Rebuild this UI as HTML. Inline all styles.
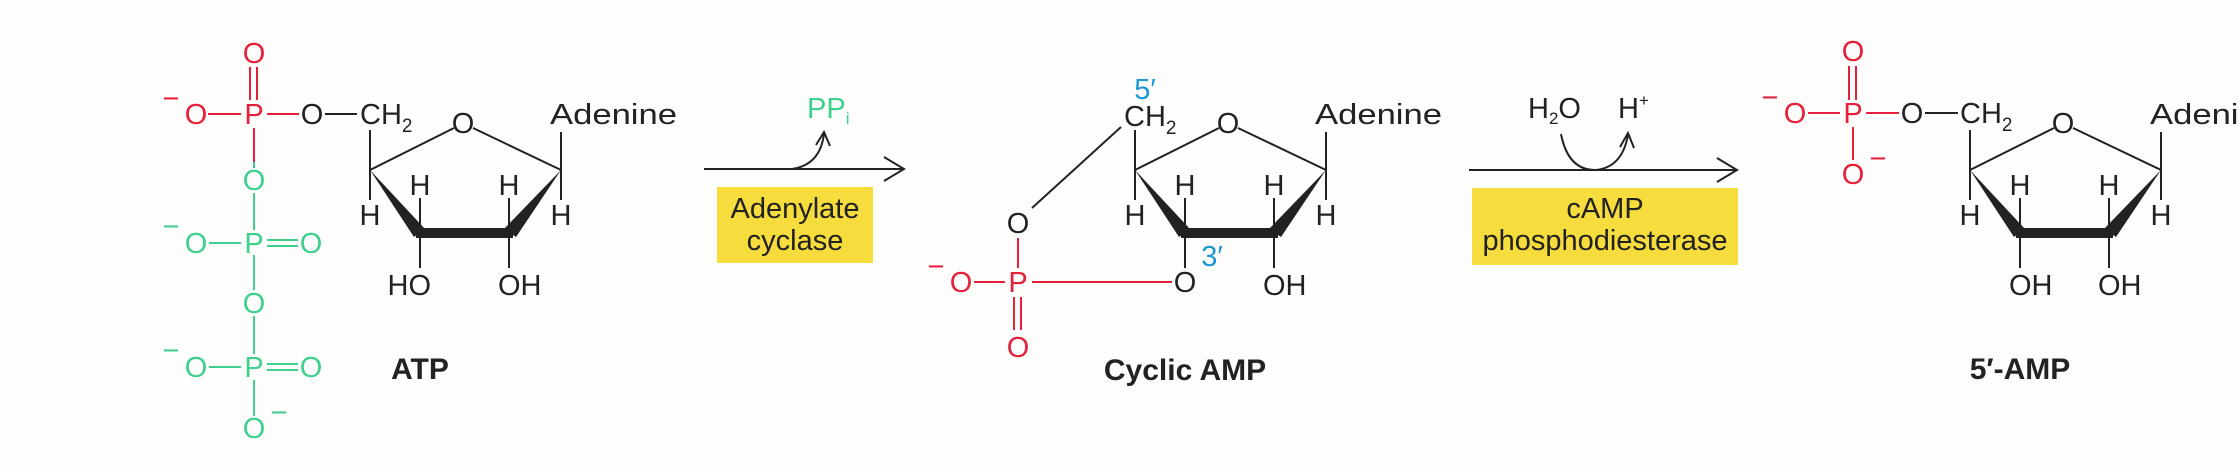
<!DOCTYPE html>
<html><head><meta charset="utf-8"><style>
html,body{margin:0;padding:0;background:#fdfdfb;}
svg{display:block;}
text{font-family:"Liberation Sans",Arial,sans-serif;font-size:29px;}
.k{fill:#222;} .r{fill:#e5203a;} .g{fill:#3fcf8f;} .b{fill:#1c98d4;}
.sm{font-size:19px;}
.bold{font-weight:bold;font-size:30px;fill:#222;}
</style></head><body>
<svg width="2240" height="472" viewBox="0 0 2240 472" xmlns="http://www.w3.org/2000/svg">
<defs>
<g id="ring">
  <g stroke="#222" stroke-width="2" fill="none">
    <line x1="0" y1="130" x2="0" y2="200"/>
    <line x1="0" y1="170" x2="84" y2="128"/>
    <line x1="103" y1="128" x2="191" y2="170"/>
    <line x1="191" y1="132" x2="191" y2="200"/>
    <line x1="50" y1="198" x2="50" y2="230"/>
    <line x1="139" y1="198" x2="139" y2="230"/>
    <line x1="50" y1="236" x2="50" y2="268"/>
    <line x1="139" y1="236" x2="139" y2="268"/>
  </g>
  <polygon points="0,170 44,237 55,229" fill="#222"/>
  <rect x="46" y="228" width="97" height="10" fill="#222"/>
  <polygon points="191,170 134,229 146,237" fill="#222"/>
  <text class="k" x="0" y="225" text-anchor="middle">H</text>
  <text class="k" x="191" y="225" text-anchor="middle">H</text>
  <text class="k" x="50" y="195" text-anchor="middle">H</text>
  <text class="k" x="139" y="195" text-anchor="middle">H</text>
  <text class="k" x="93" y="133" text-anchor="middle">O</text>
  <text class="k" x="180" y="124" textLength="127" lengthAdjust="spacingAndGlyphs">Adenine</text>
</g>
</defs>

<!-- ===== ATP ===== -->
<text class="r" x="254" y="63" text-anchor="middle">O</text>
<g stroke="#e5203a" stroke-width="2">
  <line x1="250" y1="67" x2="250" y2="100"/><line x1="257" y1="67" x2="257" y2="100"/>
  <line x1="208" y1="114" x2="241" y2="114"/>
  <line x1="267" y1="114" x2="299" y2="114"/>
  <line x1="254" y1="128" x2="254" y2="162"/>
</g>
<text class="r" x="171" y="108" text-anchor="middle" font-size="22">−</text>
<text class="r" x="196" y="124" text-anchor="middle">O</text>
<text class="r" x="254" y="124" text-anchor="middle">P</text>
<text class="k" x="312" y="124" text-anchor="middle">O</text>
<line x1="325" y1="114" x2="357" y2="114" stroke="#222" stroke-width="2"/>
<text class="k" x="360" y="124">CH<tspan class="sm" dy="8">2</tspan></text>
<!-- green chain -->
<g stroke="#3fcf8f" stroke-width="2">
  <line x1="254" y1="162" x2="254" y2="168"/>
  <line x1="254" y1="193" x2="254" y2="230"/>
  <line x1="209" y1="243" x2="241" y2="243"/>
  <line x1="267" y1="240" x2="298" y2="240"/><line x1="267" y1="246" x2="298" y2="246"/>
  <line x1="254" y1="255" x2="254" y2="290"/>
  <line x1="254" y1="316" x2="254" y2="354"/>
  <line x1="209" y1="367" x2="241" y2="367"/>
  <line x1="267" y1="364" x2="298" y2="364"/><line x1="267" y1="370" x2="298" y2="370"/>
  <line x1="254" y1="380" x2="254" y2="416"/>
</g>
<text class="g" x="254" y="190" text-anchor="middle">O</text>
<text class="g" x="171" y="236" text-anchor="middle" font-size="22">−</text>
<text class="g" x="196" y="253" text-anchor="middle">O</text>
<text class="g" x="254" y="253" text-anchor="middle">P</text>
<text class="g" x="311" y="253" text-anchor="middle">O</text>
<text class="g" x="254" y="313" text-anchor="middle">O</text>
<text class="g" x="171" y="360" text-anchor="middle" font-size="22">−</text>
<text class="g" x="196" y="377" text-anchor="middle">O</text>
<text class="g" x="254" y="377" text-anchor="middle">P</text>
<text class="g" x="311" y="377" text-anchor="middle">O</text>
<text class="g" x="254" y="438" text-anchor="middle">O</text>
<text class="g" x="279" y="422" text-anchor="middle" font-size="22">−</text>
<use href="#ring" x="370"/>
<text class="k" x="431" y="295" text-anchor="end">HO</text>
<text class="k" x="498" y="295">OH</text>
<text class="bold" x="420" y="379" text-anchor="middle">ATP</text>

<!-- ===== Arrow 1 ===== -->
<g stroke="#222" stroke-width="2" fill="none">
  <line x1="704" y1="169" x2="904" y2="169"/>
  <polyline points="884,157 904,169 884,181"/>
  <path d="M792,169 Q820,165 824,134"/>
  <polyline points="816,145 824,132 830,146"/>
</g>
<text class="g" x="807" y="118" font-size="26">PP<tspan font-size="17" dy="6">i</tspan></text>
<rect x="717" y="187" width="156" height="76" fill="#f6dc3c"/>
<text class="k" x="795" y="218" text-anchor="middle" font-size="27">Adenylate</text>
<text class="k" x="795" y="250" text-anchor="middle" font-size="27">cyclase</text>

<!-- ===== Cyclic AMP ===== -->
<use href="#ring" x="1135"/>
<text class="k" x="1124" y="126">CH<tspan class="sm" dy="8">2</tspan></text>
<text class="b" x="1145" y="99" text-anchor="middle" font-size="23">5′</text>
<line x1="1032" y1="208" x2="1121" y2="127" stroke="#222" stroke-width="2"/>
<text class="k" x="1018" y="233" text-anchor="middle">O</text>
<g stroke="#e5203a" stroke-width="2">
  <line x1="1018" y1="238" x2="1018" y2="268"/>
  <line x1="974" y1="282" x2="1005" y2="282"/>
  <line x1="1032" y1="282" x2="1172" y2="282"/>
  <line x1="1014" y1="297" x2="1014" y2="330"/><line x1="1021" y1="297" x2="1021" y2="330"/>
</g>
<text class="r" x="936" y="276" text-anchor="middle" font-size="22">−</text>
<text class="r" x="961" y="292" text-anchor="middle">O</text>
<text class="r" x="1018" y="292" text-anchor="middle">P</text>
<text class="r" x="1018" y="357" text-anchor="middle">O</text>
<text class="k" x="1185" y="292" text-anchor="middle">O</text>
<text class="b" x="1212" y="266" text-anchor="middle" font-size="23">3′</text>
<text class="k" x="1263" y="295">OH</text>
<text class="bold" x="1185" y="380" text-anchor="middle">Cyclic AMP</text>

<!-- ===== Arrow 2 ===== -->
<g stroke="#222" stroke-width="2" fill="none">
  <line x1="1469" y1="170" x2="1737" y2="170"/>
  <polyline points="1717,158 1737,170 1717,182"/>
  <path d="M1561,134 Q1568,170 1595,170 Q1622,168 1628,135"/>
  <polyline points="1620,147 1628,133 1634,148"/>
</g>
<text class="k" x="1528" y="118" font-size="26">H<tspan font-size="17" dy="6">2</tspan><tspan dy="-6">O</tspan></text>
<text class="k" x="1618" y="118" font-size="26">H<tspan font-size="17" dy="-12">+</tspan></text>
<rect x="1472" y="188" width="266" height="77" fill="#f6dc3c"/>
<text class="k" x="1605" y="218" text-anchor="middle" font-size="27">cAMP</text>
<text class="k" x="1605" y="250" text-anchor="middle" font-size="27">phosphodiesterase</text>

<!-- ===== 5'-AMP ===== -->
<text class="r" x="1853" y="61" text-anchor="middle">O</text>
<g stroke="#e5203a" stroke-width="2">
  <line x1="1849" y1="66" x2="1849" y2="100"/><line x1="1856" y1="66" x2="1856" y2="100"/>
  <line x1="1808" y1="113" x2="1840" y2="113"/>
  <line x1="1866" y1="113" x2="1899" y2="113"/>
  <line x1="1853" y1="127" x2="1853" y2="160"/>
</g>
<text class="r" x="1770" y="107" text-anchor="middle" font-size="22">−</text>
<text class="r" x="1795" y="123" text-anchor="middle">O</text>
<text class="r" x="1853" y="123" text-anchor="middle">P</text>
<text class="r" x="1853" y="184" text-anchor="middle">O</text>
<text class="r" x="1878" y="168" text-anchor="middle" font-size="22">−</text>
<text class="k" x="1912" y="123" text-anchor="middle">O</text>
<line x1="1925" y1="113" x2="1958" y2="113" stroke="#222" stroke-width="2"/>
<text class="k" x="1960" y="123">CH<tspan class="sm" dy="8">2</tspan></text>
<use href="#ring" x="1970"/>
<text class="k" x="2009" y="295">OH</text>
<text class="k" x="2098" y="295">OH</text>
<text class="bold" x="2020" y="379" text-anchor="middle">5′-AMP</text>
</svg>
</body></html>
